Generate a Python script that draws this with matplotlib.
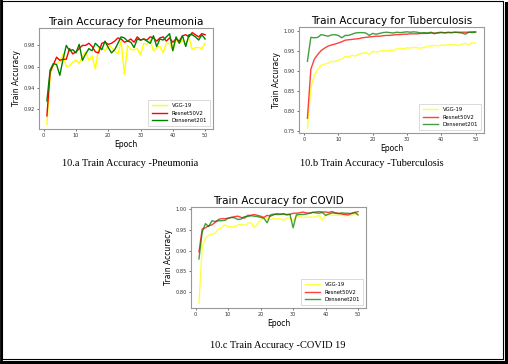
import matplotlib
matplotlib.use('Agg')
import matplotlib.pyplot as plt
from matplotlib.lines import Line2D

# Epochs 1..50
epochs = list(range(1, 51))
models = ['VGG-19', 'Resnet50V2', 'Densenet201']
colors = ['yellow', 'red', 'green']

# Pneumonia train accuracy
pn_vgg = [0.906, 0.952, 0.962, 0.963, 0.965, 0.972, 0.960, 0.961, 0.964, 0.966,
          0.963, 0.970, 0.974, 0.966, 0.970, 0.958, 0.977, 0.978, 0.975, 0.980,
          0.978, 0.975, 0.972, 0.984, 0.953, 0.980, 0.976, 0.976, 0.977, 0.971,
          0.982, 0.981, 0.985, 0.975, 0.978, 0.979, 0.973, 0.982, 0.982, 0.975,
          0.985, 0.982, 0.985, 0.980, 0.988, 0.976, 0.978, 0.978, 0.977, 0.982]
pn_res = [0.914, 0.955, 0.962, 0.969, 0.966, 0.967, 0.967, 0.977, 0.972, 0.974,
          0.977, 0.980, 0.980, 0.982, 0.979, 0.974, 0.973, 0.982, 0.983, 0.981,
          0.982, 0.984, 0.987, 0.986, 0.983, 0.984, 0.986, 0.983, 0.988, 0.985,
          0.986, 0.985, 0.988, 0.987, 0.984, 0.987, 0.988, 0.984, 0.987, 0.983,
          0.986, 0.984, 0.989, 0.990, 0.988, 0.992, 0.990, 0.988, 0.991, 0.990]
pn_den = [0.928, 0.957, 0.963, 0.962, 0.952, 0.967, 0.980, 0.975, 0.976, 0.973,
          0.981, 0.966, 0.972, 0.977, 0.975, 0.982, 0.979, 0.976, 0.984, 0.978,
          0.973, 0.976, 0.982, 0.988, 0.987, 0.984, 0.983, 0.978, 0.986, 0.985,
          0.986, 0.984, 0.982, 0.989, 0.979, 0.986, 0.985, 0.988, 0.991, 0.975,
          0.988, 0.982, 0.989, 0.979, 0.990, 0.990, 0.988, 0.985, 0.990, 0.986]

# Tuberculosis train accuracy
tb_vgg = [0.757, 0.860, 0.888, 0.905, 0.915, 0.918, 0.920, 0.925, 0.924, 0.928,
          0.930, 0.937, 0.936, 0.940, 0.938, 0.943, 0.945, 0.947, 0.942, 0.950,
          0.948, 0.950, 0.952, 0.951, 0.953, 0.952, 0.956, 0.958, 0.956, 0.959,
          0.958, 0.960, 0.959, 0.958, 0.960, 0.962, 0.964, 0.965, 0.963, 0.966,
          0.965, 0.967, 0.966, 0.967, 0.964, 0.968, 0.970, 0.966, 0.972, 0.970]
tb_res = [0.782, 0.905, 0.930, 0.942, 0.952, 0.958, 0.963, 0.966, 0.968, 0.971,
          0.974, 0.978, 0.979, 0.980, 0.981, 0.982, 0.984, 0.985, 0.986, 0.987,
          0.988, 0.988, 0.989, 0.990, 0.990, 0.991, 0.992, 0.992, 0.993, 0.993,
          0.994, 0.994, 0.994, 0.995, 0.995, 0.995, 0.996, 0.996, 0.996, 0.997,
          0.997, 0.997, 0.997, 0.998, 0.998, 0.998, 0.998, 0.998, 0.999, 0.999]
tb_den = [0.925, 0.985, 0.984, 0.985, 0.992, 0.990, 0.988, 0.991, 0.992, 0.990,
          0.984, 0.990, 0.990, 0.993, 0.996, 0.997, 0.997, 0.996, 0.990, 0.995,
          0.993, 0.995, 0.997, 0.998, 0.997, 0.996, 0.998, 0.997, 0.998, 0.999,
          0.998, 0.999, 0.998, 0.996, 0.997, 0.996, 0.998, 0.994, 0.997, 0.998,
          0.996, 0.998, 0.997, 0.998, 0.997, 0.996, 0.993, 0.998, 0.997, 0.998]

# COVID train accuracy
cv_vgg = [0.773, 0.910, 0.930, 0.937, 0.940, 0.942, 0.952, 0.955, 0.962, 0.958,
          0.957, 0.958, 0.962, 0.963, 0.961, 0.965, 0.968, 0.955, 0.965, 0.975,
          0.977, 0.978, 0.975, 0.977, 0.976, 0.977, 0.973, 0.978, 0.979, 0.972,
          0.985, 0.982, 0.980, 0.980, 0.981, 0.980, 0.982, 0.985, 0.973, 0.985,
          0.986, 0.985, 0.985, 0.985, 0.986, 0.984, 0.985, 0.984, 0.987, 0.990]
cv_res = [0.897, 0.952, 0.955, 0.960, 0.962, 0.968, 0.975, 0.977, 0.977, 0.978,
          0.980, 0.982, 0.983, 0.980, 0.978, 0.985, 0.985, 0.987, 0.985, 0.983,
          0.980, 0.985, 0.983, 0.986, 0.989, 0.988, 0.989, 0.986, 0.987, 0.990,
          0.990, 0.991, 0.993, 0.991, 0.990, 0.992, 0.993, 0.994, 0.993, 0.993,
          0.992, 0.994, 0.991, 0.990, 0.988, 0.987, 0.986, 0.990, 0.992, 0.994]
cv_den = [0.880, 0.945, 0.965, 0.958, 0.972, 0.970, 0.972, 0.972, 0.973, 0.978,
          0.980, 0.979, 0.975, 0.976, 0.982, 0.982, 0.984, 0.983, 0.982, 0.980,
          0.978, 0.967, 0.986, 0.988, 0.987, 0.987, 0.988, 0.987, 0.988, 0.955,
          0.986, 0.987, 0.987, 0.988, 0.990, 0.992, 0.991, 0.990, 0.992, 0.985,
          0.988, 0.991, 0.990, 0.989, 0.991, 0.990, 0.990, 0.989, 0.992, 0.986]

titles = ['Train Accuracy for Pneumonia', 'Train Accuracy for Tuberculosis',
          'Train Accuracy for COVID']
captions = ['10.a Train Accuracy -Pneumonia', '10.b Train Accuracy -Tuberculosis',
            '10.c Train Accuracy -COVID 19']

W, H = 508, 364
fig = plt.figure(figsize=(W / 100, H / 100), dpi=100)

def px_axes(left, top, right, bottom):
    return fig.add_axes([left / W, 1 - bottom / H, (right - left) / W, (bottom - top) / H])

panels = [
    (px_axes(39, 28, 213, 129), [pn_vgg, pn_res, pn_den], 1.0, (130, 164)),
    (px_axes(299, 27, 484, 133), [tb_vgg, tb_res, tb_den], 0.75, (372, 164)),
    (px_axes(191, 207, 366, 308), [cv_vgg, cv_res, cv_den], 0.75, (278, 345)),
]

for i, (ax, series, alpha, cap_xy) in enumerate(panels):
    for vals, c, name in zip(series, colors, models):
        ax.plot(epochs, vals, color=c, lw=1.0, alpha=alpha, label=name)
    ax.set_title(titles[i], fontsize=7.5, pad=2)
    ax.set_xlabel('Epoch', fontsize=5.5, labelpad=1)
    ax.set_ylabel('Train Accuracy', fontsize=5.5, labelpad=2)
    ax.set_xticks([0, 10, 20, 30, 40, 50])
    ax.tick_params(labelsize=3.6, length=1.5, width=0.5, pad=1.5, colors='#333333')
    for sp in ax.spines.values():
        sp.set_color('#999999')
        sp.set_linewidth(0.8)
    leg = ax.legend(loc='lower right', fontsize=3.8, handlelength=3, borderpad=0.6,
                    labelspacing=0.5, framealpha=1, fancybox=False)
    leg.get_frame().set_linewidth(0.5)
    fig.text(cap_xy[0] / W, 1 - cap_xy[1] / H, captions[i], ha='center', va='center',
             fontsize=7.5, family='Liberation Serif')

# page border with shadow on left/right/bottom
fig.add_artist(Line2D([1.5 / W, 503 / W, 503 / W, 1.5 / W, 1.5 / W],
                      [1 - 1 / H, 1 - 1 / H, 1 - 359 / H, 1 - 359 / H, 1 - 1 / H],
                      transform=fig.transFigure, color='black', lw=0.8))
fig.add_artist(Line2D([1 / W, 1 / W], [0, 1], transform=fig.transFigure, color='black', lw=2))
fig.add_artist(Line2D([0, 1], [1 - 362 / H, 1 - 362 / H], transform=fig.transFigure,
                      color='black', lw=2.2))
fig.add_artist(Line2D([506 / W, 506 / W], [0, 1 - 3 / H], transform=fig.transFigure,
                      color='black', lw=2.2))

fig.savefig('out.png', dpi=100)
plt.close(fig)
